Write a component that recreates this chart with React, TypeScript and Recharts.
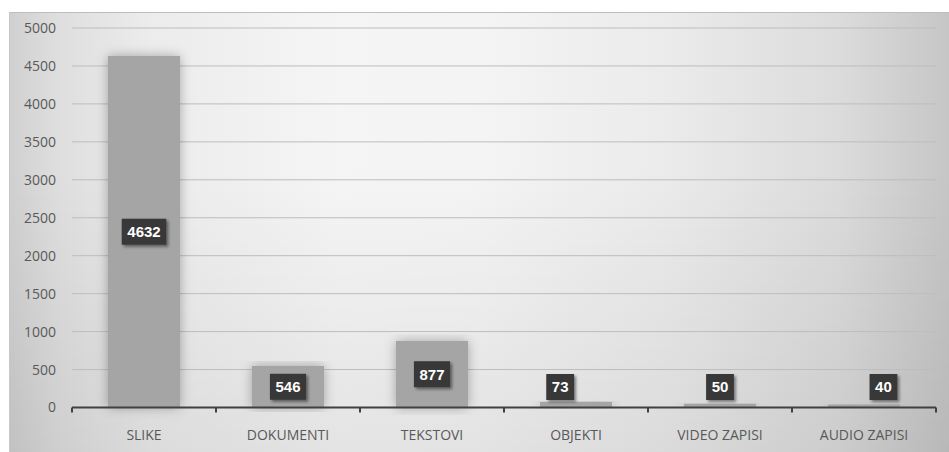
import React from 'react';
import { BarChart, Bar, XAxis, YAxis, CartesianGrid, LabelList } from 'recharts';

const categories = ['SLIKE', 'DOKUMENTI', 'TEKSTOVI', 'OBJEKTI', 'VIDEO ZAPISI', 'AUDIO ZAPISI'];
const counts = [4632, 546, 877, 73, 50, 40];
const yTicks = [0, 500, 1000, 1500, 2000, 2500, 3000, 3500, 4000, 4500, 5000];

const data = categories.map((name, i) => ({ name, value: counts[i] }));

const AXIS_FONT = "'Open Sans', 'Liberation Sans', sans-serif";
const TEXT_COLOR = '#595959';

// horizontal nudge of each value label, as a fraction of the bar width (manual label placement in the original)
const labelShift = [0, 0, 0, -0.22, 0, 0.27];

const XTick = (props: any) => {
  const { x, y, payload, index, visibleTicksCount } = props;
  const half = payload && payload.offset != null ? payload.offset : 0;
  const last = index === (visibleTicksCount ?? categories.length) - 1;
  return (
    <g>
      <line x1={x - half} x2={x - half} y1={y} y2={y + 5} stroke="#404040" strokeWidth={2} />
      {last && <line x1={x + half} x2={x + half} y1={y} y2={y + 5} stroke="#404040" strokeWidth={2} />}
      <text x={x} y={y + 32} textAnchor="middle" fill={TEXT_COLOR} fontSize={14} fontFamily={AXIS_FONT}>
        {payload.value}
      </text>
    </g>
  );
};

const ValueLabel = (props: any) => {
  const vb = props.viewBox && props.viewBox.width != null ? props.viewBox : props;
  const { x, y, width, height } = vb;
  const { value, index } = props;
  const cx = x + width / 2 + width * (labelShift[index] || 0);
  const bottom = y + height;
  const cy = Math.min(y + height / 2, bottom - 20.5);
  const w = String(value).length * 8.4 + 11;
  const h = 26;
  return (
    <g>
      <rect x={cx - w / 2} y={cy - h / 2} width={w} height={h} fill="#383838" filter="url(#lblShadow)" />
      <text
        x={cx}
        y={cy}
        dy="0.36em"
        textAnchor="middle"
        fill="#ffffff"
        fontWeight={700}
        fontSize={15}
        fontFamily="'Liberation Sans', Arial, sans-serif"
      >
        {value}
      </text>
    </g>
  );
};

export default function App() {
  return (
    <div style={{ position: 'fixed', left: 0, top: 0, width: 949, height: 452, background: '#ffffff', overflow: 'hidden' }}>
      <div
        style={{
          position: 'absolute',
          left: 9,
          top: 12,
          width: 940,
          height: 440,
          borderTop: '1px solid #bdbdbd',
          borderLeft: '1px solid #c8c8c8',
          boxSizing: 'border-box',
          background:
            'linear-gradient(to bottom, rgba(0,0,0,0) 35%, rgba(0,0,0,0.07) 100%), linear-gradient(to right, #d0d0d0 0%, #dedede 5%, #ececec 15%, #f5f5f5 35%, #f4f4f4 50%, #ebebeb 70%, #dcdcdc 88%, #c6c6c6 100%)',
        }}
      />
      <div style={{ position: 'absolute', left: 0, top: 0 }}>
        <BarChart
          width={949}
          height={452}
          data={data}
          margin={{ top: 28, right: 13, left: 0, bottom: 0 }}
          barCategoryGap="25%"
        >
          <defs>
            <filter id="barShadow" x="-40%" y="-10%" width="180%" height="120%">
              <feDropShadow dx="0" dy="0" stdDeviation="6" floodColor="#000" floodOpacity="0.3" />
            </filter>
            <filter id="lblShadow" x="-30%" y="-30%" width="170%" height="170%">
              <feDropShadow dx="2" dy="2" stdDeviation="1.5" floodColor="#000" floodOpacity="0.45" />
            </filter>
          </defs>
          <CartesianGrid vertical={false} stroke="#bdbdbd" strokeWidth={1} />
          <YAxis
            width={72}
            domain={[0, 5000]}
            ticks={yTicks}
            interval={0}
            axisLine={false}
            tickLine={false}
            tickSize={0}
            tickMargin={16}
            tick={{ fill: TEXT_COLOR, fontSize: 14, fontFamily: AXIS_FONT }}
          />
          <XAxis
            dataKey="name"
            height={44.5}
            interval={0}
            axisLine={{ stroke: '#404040', strokeWidth: 2 }}
            tickLine={false}
            tickSize={0}
            tickMargin={0}
            tick={<XTick />}
          />
          <Bar dataKey="value" fill="#a5a5a5" isAnimationActive={false} filter="url(#barShadow)">
            <LabelList dataKey="value" content={<ValueLabel />} />
          </Bar>
        </BarChart>
      </div>
    </div>
  );
}
